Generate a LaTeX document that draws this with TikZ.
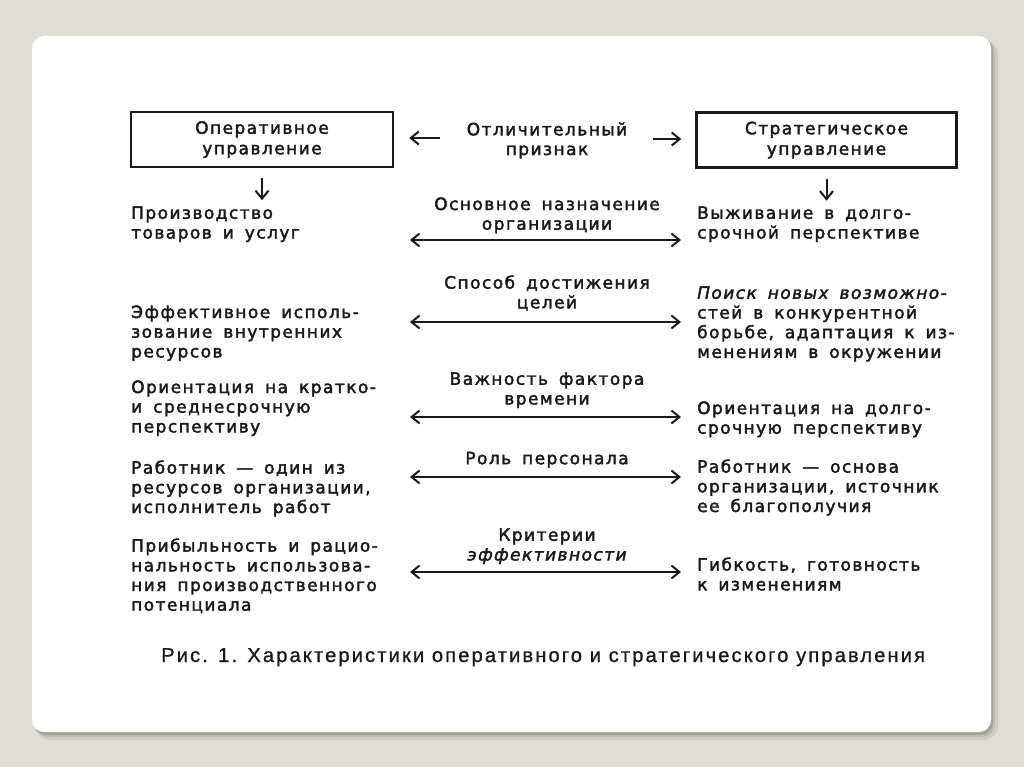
\documentclass[tikz,border=0pt]{standalone}
\usepackage{fontspec}
\setmainfont{DejaVu Sans}
\newfontfamily\mainf[LetterSpace=8.5,WordSpace=1.6,FakeBold=2.2]{DejaVu Sans}
\newfontfamily\capf[LetterSpace=10.3,FakeBold=0.8]{Liberation Sans}
\usetikzlibrary{arrows.meta}
\definecolor{bgc}{RGB}{224,221,211}
\definecolor{shadc}{RGB}{180,177,168}
\definecolor{ink}{RGB}{25,25,25}
\tikzset{
  txt/.style={font=\mainf\fontsize{17}{19.7}\selectfont, inner sep=0pt, yshift=13.79pt,
    execute at begin node=\strut, text=ink},
  lt/.style={txt, anchor=north west, align=left},
  ct/.style={txt, anchor=north, align=center},
  arr/.style={-{Straight Barb[length=8pt,width=13pt]}, line width=2pt, draw=ink},
  darr/.style={{Straight Barb[length=8pt,width=13pt]}-{Straight Barb[length=8pt,width=13pt]}, line width=2pt, draw=ink},
  boxs/.style={draw=ink, line width=2.4pt, minimum width=262pt, minimum height=55pt, inner sep=0pt,
    align=center, font=\mainf\fontsize{17}{20.5}\selectfont, text=ink},
  capt/.style={font=\capf\fontsize{20.2}{24}\selectfont, inner sep=0pt, text=ink}
}
\begin{document}
\begin{tikzpicture}[x=1pt,y=-1pt]
\useasboundingbox (0,0) rectangle (1024,767);
% background and card
\fill[bgc] (0,0) rectangle (1024,767);
\fill[shadc, opacity=0.35, rounded corners=14pt] (35,40) rectangle (998,740);
\fill[shadc, opacity=0.6, rounded corners=13pt] (35,39) rectangle (995,737);
\fill[shadc!80!black, opacity=0.5, rounded corners=12pt] (34,38) rectangle (993,735);
\fill[white, rounded corners=12pt] (32,36) rectangle (991,732);

% header boxes
\node[boxs] (opbox) at (262,139.5) {Оперативное\\управление};
\node[boxs, minimum width=260pt] (stbox) at (826.5,140) {Стратегическое\\управление};
\node[ct] (c0) at (547,136) {Отличительный\\признак};

\coordinate (t1s) at (440,138);
\coordinate (t2s) at (653,139);
\draw[arr] (t1s) -- ([xshift=15pt]opbox.east |- t1s);
\draw[arr] (t2s) -- ([xshift=-14pt]stbox.west |- t2s);
\draw[arr] ([yshift=-10pt]opbox.south) -- ([yshift=-32pt]opbox.south);
\draw[arr] ([yshift=-10pt]stbox.south) -- ([yshift=-32pt]stbox.south);

% left column
\node[lt] (l1) at (131,220) {Производство\\товаров и услуг};
\node[lt] (l2) at (131,319) {Эффективное исполь-\\зование внутренних\\ресурсов};
\node[lt] (l3) at (131,394) {Ориентация на кратко-\\и среднесрочную\\перспективу};
\node[lt] (l4) at (131,474) {Работник — один из\\ресурсов организации,\\исполнитель работ};
\node[lt] (l5) at (131,552) {Прибыльность и рацио-\\нальность использова-\\ния производственного\\потенциала};

% right column
\node[lt] (r1) at (697,220) {Выживание в долго-\\срочной перспективе};
\node[lt] (r2) at (697,300) {{\itshape Поиск новых возможно-}\\стей в конкурентной\\борьбе, адаптация к из-\\менениям в окружении};
\node[lt] (r3) at (697,415) {Ориентация на долго-\\срочную перспективу};
\node[lt] (r4) at (697,473) {Работник — основа\\организации, источник\\ее благополучия};
\node[lt] (r5) at (697,571) {Гибкость, готовность\\к изменениям};

% centre labels
\node[ct] (c1) at (547,211) {Основное назначение\\организации};
\node[ct] (c2) at (547,289) {Способ достижения\\целей};
\node[ct] (c3) at (547,386) {Важность фактора\\времени};
\node[ct] (c4) at (547,464) {Роль персонала};
\node[ct] (c5) at (547,542) {Критерии\\{\itshape эффективности}};

% double arrows
\coordinate (a1) at (410,240); \coordinate (b1) at (681,240);
\coordinate (a2) at (410,322); \coordinate (b2) at (681,322);
\coordinate (a3) at (410,417); \coordinate (b3) at (681,417);
\coordinate (a4) at (410,477); \coordinate (b4) at (681,477);
\coordinate (a5) at (410,572); \coordinate (b5) at (681,572);
\draw[darr] (a1) -- (b1);
\draw[darr] (a2) -- (b2);
\draw[darr] (a3) -- (b3);
\draw[darr] (a4) -- (b4);
\draw[darr] (a5) -- (b5);

% caption
\node[capt, anchor=base west] (cap) at (161,662) {Рис. 1. Характеристики оперативного и стратегического управления};
\end{tikzpicture}
\end{document}
